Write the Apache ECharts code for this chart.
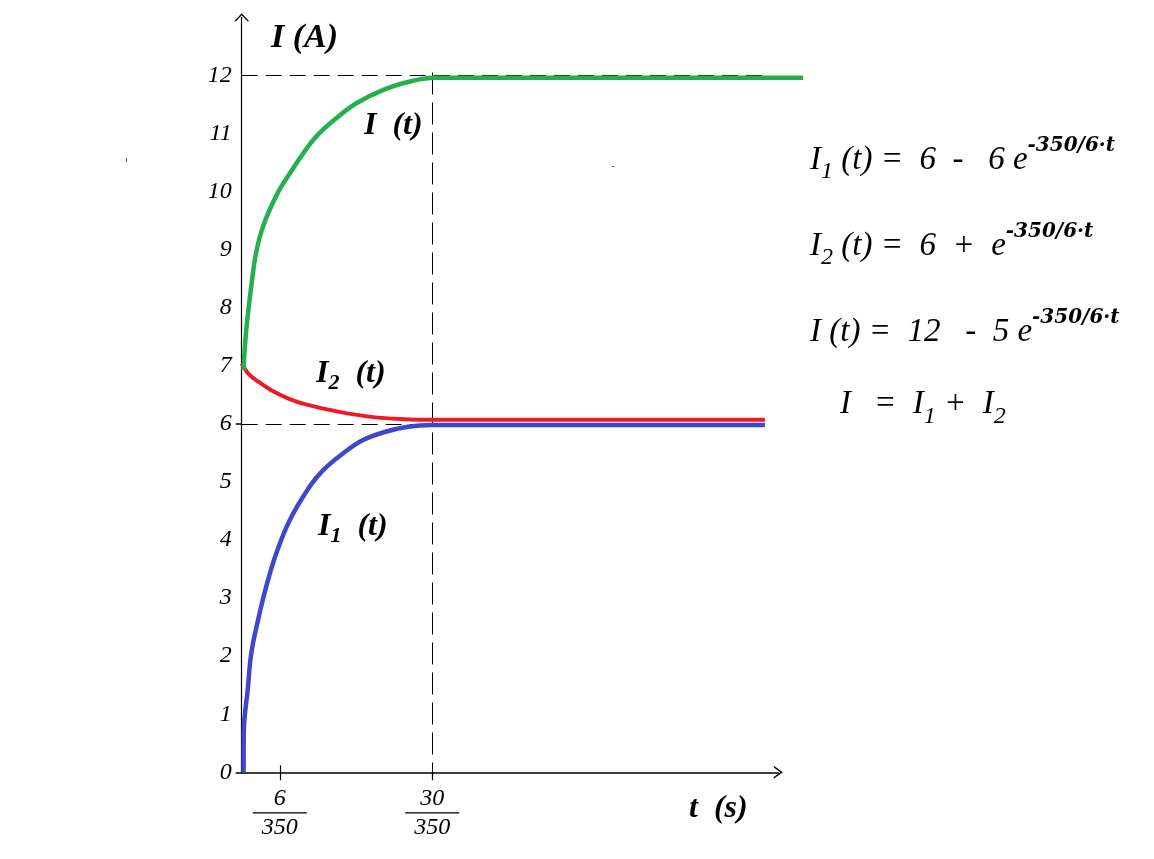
<!DOCTYPE html>
<html>
<head>
<meta charset="utf-8">
<script src="https://cdn.jsdelivr.net/npm/echarts@6/dist/echarts.min.js"></script>
<style>
html,body{margin:0;padding:0;background:#fff;}
#chart{width:1154px;height:859px;}
</style>
</head>
<body>
<div id="chart"></div>
<script>
// time values are in units of 1/350 s (t * 350)
const tI1 = [0.30, 0.32, 0.99, 1.51, 2.57, 3.87, 5.45, 7.56, 10.71, 12.8, 15.95, 19.1, 22.5, 26.2, 30.0, 82.4];
const vI1 = [0.00, 0.67, 1.47, 2.05, 2.62, 3.20, 3.77, 4.34, 4.92, 5.20, 5.49, 5.72, 5.86, 5.95, 5.98, 5.98];

const tI2 = [0.0, 1.0, 2.57, 4.66, 7.29, 9.92, 15.17, 20.4, 25.7, 30.4, 82.4];
const vI2 = [7.04, 6.87, 6.73, 6.58, 6.44, 6.34, 6.21, 6.12, 6.08, 6.07, 6.07];

const tI = [0.30, 0.45, 0.75, 1.15, 1.6, 2.1, 2.8, 3.7, 4.8, 6.2, 7.8, 9.7, 11.75, 14.65, 18.05, 22.5, 26.7, 30.4, 88.4];
const vI = [6.93, 7.25, 7.65, 8.05, 8.45, 8.85, 9.20, 9.50, 9.78, 10.08, 10.35, 10.66, 10.95, 11.24, 11.52, 11.76, 11.90, 11.96, 11.96];

const xTickValues = [6, 30];
const xTickDenominator = 350;
const yMax = 12;

const zip = (a, b) => a.map((x, i) => [x, b[i]]);

const SERIF = '"Liberation Serif", "Times New Roman", serif';
const SUPF = '"DejaVu Serif", serif';
const GREEN = '#22b14c', RED = '#ed1c24', BLUE = '#3f48cc';

const chart = echarts.init(document.getElementById('chart'), null, {renderer: 'canvas'});

const eqRich = {
  m: {fontFamily: SERIF, fontStyle: 'italic', fontSize: 33, lineHeight: 48, verticalAlign: 'middle', color: '#000'},
  s: {fontFamily: SERIF, fontStyle: 'italic', fontSize: 24, lineHeight: 48, verticalAlign: 'bottom', color: '#000'},
  p: {fontFamily: SUPF, fontStyle: 'italic', fontWeight: 'bold', fontSize: 20, lineHeight: 48, verticalAlign: 'top', color: '#000'}
};
function labRich(color) {
  return {
    m: {fontFamily: SERIF, fontStyle: 'italic', fontWeight: 'bold', fontSize: 32, lineHeight: 40, verticalAlign: 'middle', color: color},
    s: {fontFamily: SERIF, fontStyle: 'italic', fontWeight: 'bold', fontSize: 22, lineHeight: 40, verticalAlign: 'bottom', color: color}
  };
}

const PX_PER_UNIT = 6.35;
const gLeft = 241.7, gTop = 17.3, gHeight = 755;

const option = {
  animation: false,
  backgroundColor: '#ffffff',
  grid: [
    {left: gLeft, top: gTop, width: 89 * PX_PER_UNIT, height: gHeight, containLabel: false},
    {left: gLeft, top: gTop, width: 84.5 * PX_PER_UNIT, height: gHeight, containLabel: false}
  ],
  xAxis: [{
    gridIndex: 0, type: 'value', min: 0, max: 89,
    axisLine: {show: false}, axisTick: {show: false}, axisLabel: {show: false}, splitLine: {show: false}
  }, {
    gridIndex: 1, type: 'value', min: 0, max: 84.5,
    axisLine: {show: true, onZero: false, lineStyle: {color: '#000', width: 1.6},
      symbol: ['none', 'path://M0,9 L6.5,0 L13,9 L11.3,9 L6.5,2.4 L1.7,9 Z'], symbolSize: [13, 9]},
    splitLine: {show: false},
    axisTick: {show: true, customValues: xTickValues, length: 8, lineStyle: {color: '#000', width: 1.2}},
    axisLabel: {
      customValues: xTickValues, margin: 15,
      formatter: v => '{n|' + v + '}\n{b|}\n{n|' + xTickDenominator + '}',
      rich: {
        n: {fontFamily: SERIF, fontStyle: 'italic', fontSize: 24, lineHeight: 22, color: '#000', align: 'center'},
        b: {width: 54, height: 1.3, lineHeight: 7, backgroundColor: '#000', align: 'center'}
      }
    }
  }, {
    gridIndex: 1, type: 'value', min: 0, max: 84.5, position: 'bottom',
    axisLine: {show: false}, splitLine: {show: false}, axisLabel: {show: false},
    axisTick: {show: true, inside: true, customValues: [6], length: 7, lineStyle: {color: '#000', width: 1.2}}
  }],
  yAxis: [{
    gridIndex: 0, type: 'value', min: 0, max: 13, interval: 1,
    axisLine: {show: true, onZero: false, lineStyle: {color: '#000', width: 1.2},
      symbol: ['none', 'path://M0,8 L7.5,0 L15,8 L13.2,8 L7.5,1.9 L1.8,8 Z'], symbolSize: [15, 8]},
    splitLine: {show: false},
    axisTick: {show: true, customValues: [0, 6], length: 6, lineStyle: {color: '#000', width: 1.5}},
    axisLabel: {
      margin: 10, color: '#000', fontFamily: SERIF, fontStyle: 'italic', fontSize: 24,
      formatter: v => (v > yMax ? '' : String(v))
    }
  }, {
    gridIndex: 1, type: 'value', min: 0, max: 13,
    axisLine: {show: false}, axisTick: {show: false}, axisLabel: {show: false}, splitLine: {show: false}
  }],
  series: [
    {
      type: 'line', xAxisIndex: 0, yAxisIndex: 0, data: [[0, 0]], symbol: 'none', lineStyle: {width: 0}, silent: true, z: 1,
      markLine: {
        silent: true, symbol: 'none', label: {show: false},
        lineStyle: {color: '#000', width: 1, type: [16, 8]},
        emphasis: {disabled: true},
        data: [
          [{coord: [0, 12]}, {coord: [82.3, 12]}],
          [{coord: [0, 6]}, {coord: [30, 6]}],
          [{coord: [30, 12.05], lineStyle: {type: [22, 8]}}, {coord: [30, 0]}]
        ]
      }
    },
    {type: 'line', name: 'I1', xAxisIndex: 0, yAxisIndex: 0, data: zip(tI1, vI1), symbol: 'none', smooth: 0.4, z: 5,
      lineStyle: {color: BLUE, width: 4.5}},
    {type: 'line', name: 'I2', xAxisIndex: 0, yAxisIndex: 0, data: zip(tI2, vI2), symbol: 'none', smooth: 0.4, z: 5,
      lineStyle: {color: RED, width: 4}},
    {type: 'line', name: 'I', xAxisIndex: 0, yAxisIndex: 0, data: zip(tI, vI), symbol: 'none', smooth: 0.4, z: 5,
      lineStyle: {color: GREEN, width: 4.5}}
  ],
  graphic: [
    {type: 'text', left: 271, top: 21, style: {text: 'I (A)', font: 'italic bold 34px ' + SERIF, fill: '#000'}},
    {type: 'text', left: 689, top: 793, style: {text: 't  (s)', font: 'italic bold 32px ' + SERIF, fill: '#000'}},
    {type: 'text', left: 364, top: 110, style: {text: '{m|I  (t)}', rich: labRich(GREEN)}},
    {type: 'text', left: 316, top: 358, style: {text: '{m|I}{s|2}{m|  (t)}', rich: labRich(RED)}},
    {type: 'text', left: 318, top: 511, style: {text: '{m|I}{s|1}{m|  (t)}', rich: labRich(BLUE)}},
    {type: 'text', left: 810, top: 136, style: {text: '{m|I}{s|1}{m| (t) =  6  -   6 e}{p|-350/6·t}', rich: eqRich}},
    {type: 'text', left: 810, top: 222, style: {text: '{m|I}{s|2}{m| (t) =  6  +  e}{p|-350/6·t}', rich: eqRich}},
    {type: 'text', left: 810, top: 308, style: {text: '{m|I (t) =  12   -  5 e}{p|-350/6·t}', rich: eqRich}},
    {type: 'text', left: 840, top: 388, style: {text: '{m|I  \u2009=  I}{s|1}{m| +  I}{s|2}', rich: eqRich}},
    {type: 'rect', left: 126, top: 158, shape: {width: 1, height: 4}, style: {fill: '#555'}},
    {type: 'rect', left: 612, top: 166, shape: {width: 2, height: 1}, style: {fill: '#555'}}
  ]
};
chart.setOption(option);
</script>
</body>
</html>
